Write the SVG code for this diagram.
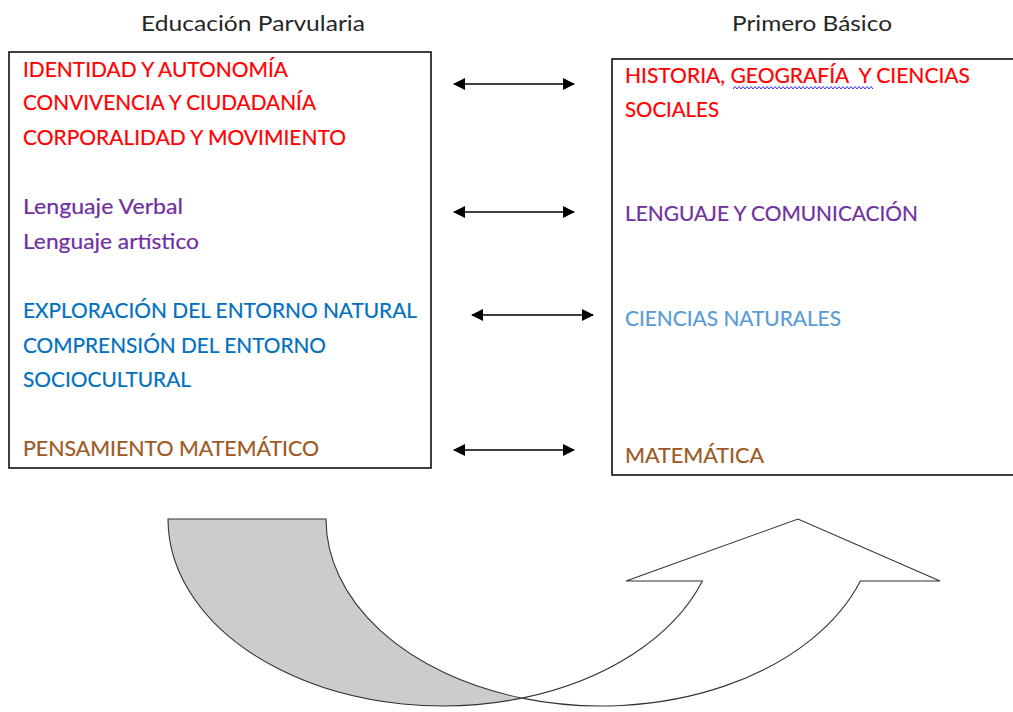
<svg xmlns="http://www.w3.org/2000/svg" width="1013" height="712" viewBox="0 0 1013 712">
<style>
  text { font-family: Lato, "Open Sans", "Liberation Sans", sans-serif; font-size: 20.5px; stroke-width: 0.2; }
  .title { fill: #262626; stroke: none; }
  .red { fill: #FF0000; stroke: #FF0000; }
  .purple { fill: #7030A0; stroke: #7030A0; }
  .blue { fill: #0070C0; stroke: #0070C0; }
  .lblue { fill: #5B9BD5; stroke: #5B9BD5; }
  .brown { fill: #9C5A24; stroke: #9C5A24; }
  .box { fill: #fff; stroke: #000; stroke-width: 1.5; }
  .conn { stroke: #000; stroke-width: 1.6; fill: none; marker-start: url(#ah); marker-end: url(#ah); }
  .shape { stroke: #333; stroke-width: 1.1; stroke-linejoin: miter; }
</style>
<defs>
  <marker id="ah" viewBox="0 0 12 12" refX="11" refY="6" markerWidth="12" markerHeight="12" markerUnits="userSpaceOnUse" orient="auto-start-reverse">
    <path d="M0,0 L12,6 L0,12 Z" fill="#000"/>
  </marker>
</defs>
<rect width="1013" height="712" fill="#fff"/>

<g id="title-left"><text class="title" x="141" y="31" textLength="224" lengthAdjust="spacingAndGlyphs">Educación Parvularia</text></g>
<g id="title-right"><text class="title" x="732" y="31" textLength="160" lengthAdjust="spacingAndGlyphs">Primero Básico</text></g>

<g id="node-parvularia">
  <rect class="box" x="9" y="52" width="422" height="416"/>
  <text class="red" x="23" y="77" textLength="265" lengthAdjust="spacingAndGlyphs">IDENTIDAD Y AUTONOMÍA</text>
  <text class="red" x="23" y="110" textLength="293" lengthAdjust="spacingAndGlyphs">CONVIVENCIA Y CIUDADANÍA</text>
  <text class="red" x="23" y="145" textLength="323" lengthAdjust="spacingAndGlyphs">CORPORALIDAD Y MOVIMIENTO</text>
  <text class="purple" x="23" y="214" textLength="160" lengthAdjust="spacingAndGlyphs">Lenguaje Verbal</text>
  <text class="purple" x="23" y="249" textLength="176" lengthAdjust="spacingAndGlyphs">Lenguaje artístico</text>
  <text class="blue" x="23" y="318" textLength="394" lengthAdjust="spacingAndGlyphs">EXPLORACIÓN DEL ENTORNO NATURAL</text>
  <text class="blue" x="23" y="353" textLength="303" lengthAdjust="spacingAndGlyphs">COMPRENSIÓN DEL ENTORNO</text>
  <text class="blue" x="23" y="387" textLength="168" lengthAdjust="spacingAndGlyphs">SOCIOCULTURAL</text>
  <text class="brown" x="23" y="456" textLength="296" lengthAdjust="spacingAndGlyphs">PENSAMIENTO MATEMÁTICO</text>
</g>

<g id="node-basico">
  <rect class="box" x="612" y="59" width="420" height="416"/>
  <text class="red" x="625" y="83" textLength="345" lengthAdjust="spacingAndGlyphs" xml:space="preserve">HISTORIA, GEOGRAFÍA  Y CIENCIAS</text>
  <path d="M733,89 l2-2.5 2 2.5 2-2.5 2 2.5 2-2.5 2 2.5 2-2.5 2 2.5 2-2.5 2 2.5 l2-2.5 2 2.5 2-2.5 2 2.5 2-2.5 2 2.5 2-2.5 2 2.5 2-2.5 2 2.5 l2-2.5 2 2.5 2-2.5 2 2.5 2-2.5 2 2.5 2-2.5 2 2.5 2-2.5 2 2.5 l2-2.5 2 2.5 2-2.5 2 2.5 2-2.5 2 2.5 2-2.5 2 2.5 2-2.5 2 2.5 l2-2.5 2 2.5 2-2.5 2 2.5 2-2.5 2 2.5 2-2.5 2 2.5 2-2.5 2 2.5 l2-2.5 2 2.5 2-2.5 2 2.5 2-2.5 2 2.5 2-2.5 2 2.5 2-2.5 2 2.5 l2-2.5 2 2.5 2-2.5 2 2.5 2-2.5 2 2.5 2-2.5 2 2.5 2-2.5 2 2.5" fill="none" stroke="#3333EE" stroke-width="1"/>
  <text class="red" x="625" y="117" textLength="94" lengthAdjust="spacingAndGlyphs">SOCIALES</text>
  <text class="purple" x="625" y="221" textLength="293" lengthAdjust="spacingAndGlyphs">LENGUAJE Y COMUNICACIÓN</text>
  <text class="lblue" x="625" y="326" textLength="216" lengthAdjust="spacingAndGlyphs">CIENCIAS NATURALES</text>
  <text class="brown" x="625" y="463" textLength="139" lengthAdjust="spacingAndGlyphs">MATEMÁTICA</text>
</g>

<g id="connectors">
  <line class="conn" x1="454" y1="84" x2="574" y2="84"/>
  <line class="conn" x1="454" y1="212" x2="574" y2="212"/>
  <line class="conn" x1="472" y1="315" x2="593" y2="315"/>
  <line class="conn" x1="454" y1="450" x2="574" y2="450"/>
</g>

<g id="curved-arrow">
  <path class="shape" fill="#CCCCCC" d="M168,519 L326,519 A275,187 0 0,0 522,698.1 A275,187 0 0,1 168,519 Z"/>
  <path class="shape" fill="#FFFFFF" d="M522,698.1 A275,187 0 0,0 702.4,581 L626,581 L798,519 L940,581 L860.4,581 A275,187 0 0,1 522,698.1 Z"/>
</g>
</svg>
